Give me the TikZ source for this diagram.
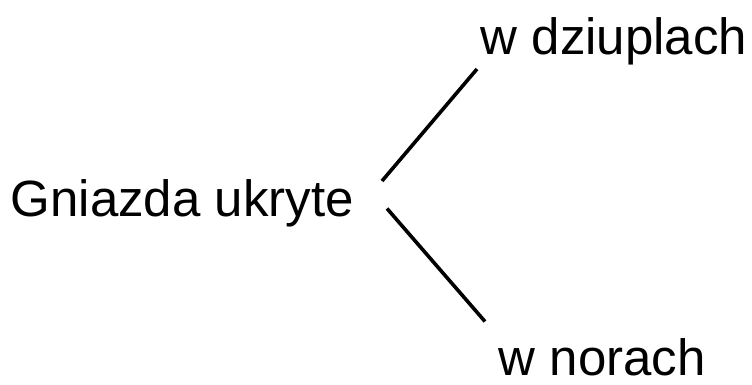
\documentclass[tikz,border=0pt]{standalone}
\usepackage{fontspec}
\setmainfont{Liberation Sans}
\begin{document}
\begin{tikzpicture}[x=1pt,y=-1pt,
  lbl/.style={anchor=base west,inner sep=0pt,font=\fontsize{51}{60}\selectfont},
  branch/.style={line width=3.6pt,black}]
\useasboundingbox (0,0) rectangle (752,385);
\node[lbl] (root) at (10.5,216) {Gniazda ukryte};
\node[lbl] (up) at (480.5,55) {w dziuplach};
\node[lbl] (down) at (498.5,375) {w norach};
\coordinate (rootA) at (382,181);
\coordinate (upA) at (477,69);
\coordinate (rootB) at (387,208.5);
\coordinate (downA) at (485,321.5);
\draw[branch] (rootA) -- (upA);
\draw[branch] (rootB) -- (downA);
\end{tikzpicture}
\end{document}
